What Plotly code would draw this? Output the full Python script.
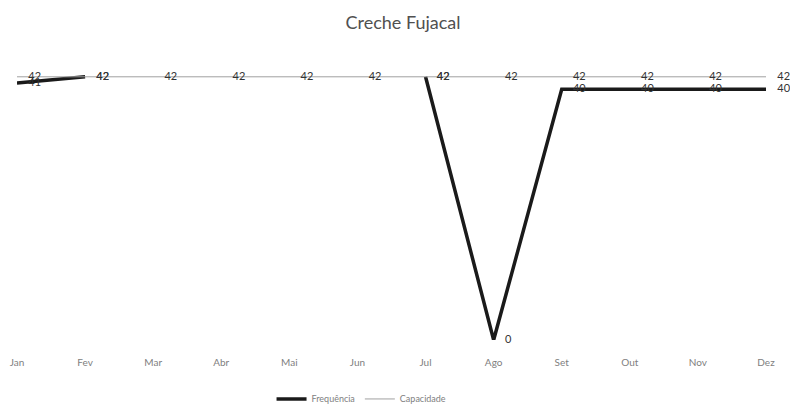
import plotly.graph_objects as go

meses = ["Jan", "Fev", "Mar", "Abr", "Mai", "Jun", "Jul", "Ago", "Set", "Out", "Nov", "Dez"]
frequencia = [41, 42, None, None, None, None, 42, 0, 40, 40, 40, 40]
capacidade = [42, 42, 42, 42, 42, 42, 42, 42, 42, 42, 42, 42]

fig = go.Figure()

fig.add_trace(go.Scatter(
    x=meses, y=frequencia, name="Frequência", mode="lines+text",
    line=dict(color="#1a1a1a", width=3.5),
    text=["    " + str(v) if v is not None else "" for v in frequencia],
    textposition="middle right",
    textfont=dict(size=11, color="#333333"),
    cliponaxis=False, connectgaps=False,
))
fig.add_trace(go.Scatter(
    x=meses, y=capacidade, name="Capacidade", mode="lines+text",
    line=dict(color="#a0a0a0", width=1),
    text=["    " + str(v) for v in capacidade],
    textposition="middle right",
    textfont=dict(size=11, color="#333333"),
    cliponaxis=False,
))

# the page body adds an 8px offset, so the figure is sized to fit the window
fig.update_layout(
    width=790, height=397,
    paper_bgcolor="white", plot_bgcolor="white",
    font=dict(family="Lato, Open Sans, sans-serif", color="#404040"),
    title=dict(text="Creche Fujacal", x=0.5, xanchor="center", y=0.962, yanchor="middle",
               font=dict(size=18, color="#505050")),
    margin=dict(l=9, r=32, t=50, b=65, autoexpand=False),
    showlegend=True,
    legend=dict(orientation="h", x=0.46, xanchor="center", y=-0.209, yanchor="middle",
                font=dict(size=9, color="#808080")),
)
fig.update_xaxes(range=[0, 11], showgrid=False, showline=False, zeroline=False,
                 ticks="", tickfont=dict(size=10, color="#808080"), ticklabelstandoff=15)
fig.update_yaxes(range=[0, 45], visible=False)

fig.write_html("out.html")
